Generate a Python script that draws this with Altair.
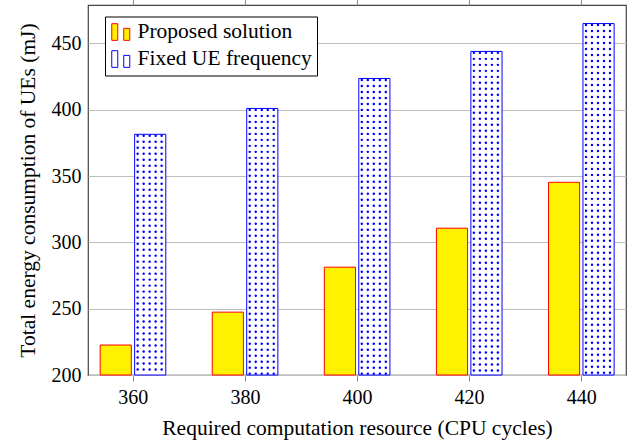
import altair as alt
import pandas as pd

cpu = [360, 380, 400, 420, 440]
proposed = [222.6, 247.4, 281.3, 310.7, 345.3]
fixed = [381.5, 401.0, 423.6, 444.0, 465.0]
series_names = ["Proposed solution", "Fixed UE frequency"]
y_ticks = [200, 250, 300, 350, 400, 450]

rows = []
for c, p, f in zip(cpu, proposed, fixed):
    rows.append({"cpu": c, "series": series_names[0], "energy": p})
    rows.append({"cpu": c, "series": series_names[1], "energy": f})
df = pd.DataFrame(rows)

FONT = "Liberation Serif"
FS = 20
TFS = 21.5

xscale = alt.Scale(domain=[352, 448], nice=False, zero=False)
yscale = alt.Scale(domain=[200, 479], nice=False, zero=False)

icon = "M-1,-0.95H-0.33V0.9H-1Z M0.33,-0.43H1V0.9H0.33Z"
leg = alt.Legend(
    title=None, orient="none", legendX=17, legendY=11.5,
    symbolType=icon, symbolSize=324, symbolStrokeWidth=1,
    labelFont=FONT, labelFontSize=TFS, labelColor="black", labelOffset=6,
    fillColor="white", strokeColor="black", padding=5, rowPadding=4,
    labelLimit=0,
)

yaxis = alt.Axis(values=y_ticks, title="Total energy consumption of UEs (mJ)",
                 ticks=False, domain=False, grid=True, gridColor="#bdbdbd",
                 labelPadding=7, titlePadding=12, format="d")

bars = alt.Chart(df).transform_calculate(
    shift="datum.series === 'Proposed solution' ? -3.05 : 3.1"
).transform_calculate(
    x0="datum.cpu + datum.shift - 2.78",
    x1="datum.cpu + datum.shift + 2.78",
).mark_bar(strokeWidth=1, strokeJoin="miter").encode(
    x=alt.X("x0:Q", scale=xscale,
            axis=alt.Axis(values=cpu, title="Required computation resource (CPU cycles)",
                          tickSize=6, tickColor="#888888", labelPadding=6, titlePadding=10,
                          domain=False, grid=False, format="d")),
    x2="x1:Q",
    y=alt.Y("energy:Q", scale=yscale, axis=yaxis),
    y2=alt.datum(200),
    fill=alt.Fill("series:N", scale=alt.Scale(domain=series_names, range=["#fff200", "#ffffff"]), legend=leg),
    stroke=alt.Stroke("series:N", scale=alt.Scale(domain=series_names, range=["#ff0000", "#0000ff"]), legend=leg),
)

dots = alt.Chart(df).transform_filter(
    "datum.series === 'Fixed UE frequency'"
).transform_calculate(
    row="sequence(0, floor((datum.energy - 201) / 4.52) + 1)"
).transform_flatten(["row"]).transform_calculate(
    col="sequence(0, 5)"
).transform_flatten(["col"]).transform_calculate(
    dx="datum.cpu + 0.86 + datum.col * 1.07",
    dy="datum.energy - 1.1 - datum.row * 4.52",
).transform_filter("datum.dy > 200.8").mark_circle(size=6, color="#0000ff", opacity=1).encode(
    x=alt.X("dx:Q", scale=xscale,
            axis=alt.Axis(orient="top", labels=False, title=None, ticks=True, tickSize=6,
                          tickColor="#888888", domain=False, grid=False, values=cpu)),
    y=alt.Y("dy:Q", scale=yscale, axis=yaxis),
)

chart = alt.layer(bars, dots).resolve_axis(x="independent", y="shared").properties(
    width=538, height=370, autosize="none",
    padding={"left": 88, "top": 5, "right": 15, "bottom": 68},
).configure_view(stroke="#444444", strokeWidth=1.2).configure_axis(
    labelFont=FONT, titleFont=FONT, labelFontSize=FS, titleFontSize=TFS,
    labelColor="black", titleColor="black", titleFontWeight="normal",
)

chart.save("out.html", embed_options={"renderer": "svg", "actions": False})
